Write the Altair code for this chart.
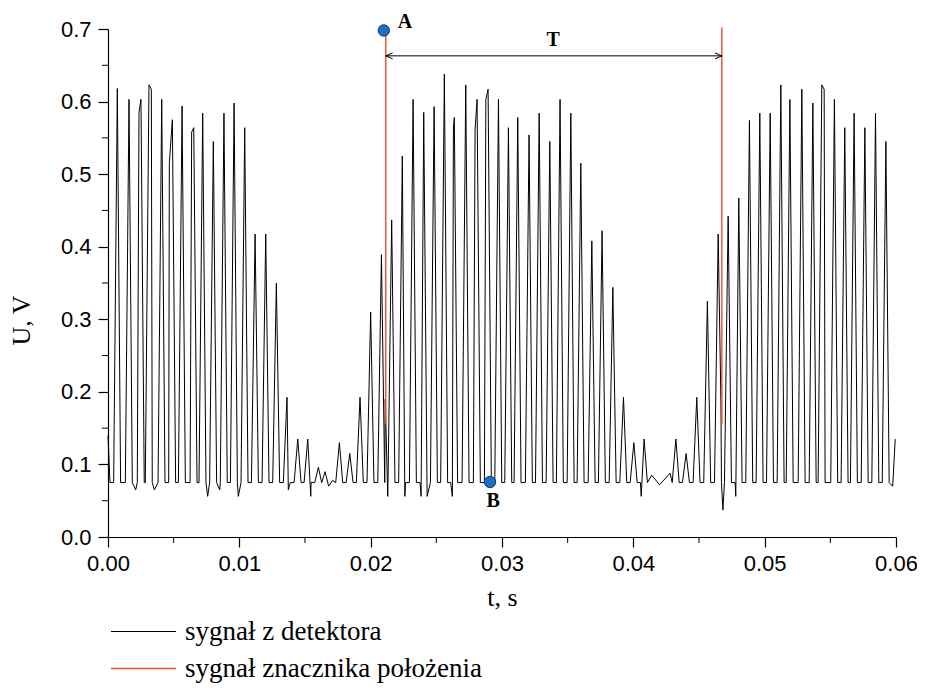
import altair as alt
import pandas as pd

# ---- data ----
peak_t = [0.00071, 0.00160, 0.00251, 0.00312, 0.00409, 0.00490, 0.00564, 0.00653, 0.00721, 0.00802,
          0.00883, 0.00960, 0.01041, 0.01120, 0.01201, 0.01282, 0.01363, 0.01445, 0.01521, 0.01602,
          0.01762, 0.01841, 0.01919, 0.02000, 0.02082, 0.02160, 0.02241, 0.02323, 0.02404, 0.02483,
          0.02561, 0.02637, 0.02724, 0.02810, 0.02894, 0.02973, 0.03049, 0.03120, 0.03206, 0.03283,
          0.03364, 0.03442, 0.03524, 0.03600, 0.03684, 0.03762, 0.03844, 0.03925, 0.04004, 0.04082,
          0.04324, 0.04402, 0.04483, 0.04564, 0.04646, 0.04722, 0.04803, 0.04884, 0.04963, 0.05042,
          0.05123, 0.05192, 0.05283, 0.05367, 0.05435, 0.05531, 0.05610, 0.05681, 0.05763, 0.05844,
          0.05923]
peak_u = [0.618, 0.603, 0.603, 0.623, 0.603, 0.575, 0.594, 0.564, 0.584, 0.545,
          0.584, 0.598, 0.564, 0.4175, 0.4175, 0.350, 0.1925, 0.135, 0.135, 0.096,
          0.130, 0.115, 0.1925, 0.310, 0.389, 0.437, 0.525, 0.603, 0.585, 0.593,
          0.638, 0.578, 0.623, 0.603, 0.617, 0.603, 0.564, 0.578, 0.554, 0.584,
          0.545, 0.603, 0.584, 0.515, 0.408, 0.422, 0.344, 0.1925, 0.130, 0.135,
          0.135, 0.115, 0.1925, 0.325, 0.4175, 0.442, 0.467, 0.574, 0.584, 0.584,
          0.623, 0.603, 0.617, 0.598, 0.623, 0.603, 0.564, 0.584, 0.564, 0.584,
          0.545]
baseline_u = 0.075
rise_dt = 0.00028
fall_dt = 0.00025

# shoulders on some spikes
extra_t = [0.00236, 0.00330, 0.00467, 0.00637, 0.02630, 0.02795, 0.02877, 0.05453]
extra_u = [0.585, 0.617, 0.515, 0.558, 0.565, 0.561, 0.603, 0.617]

# baseline wiggles, dips and small bumps
noise_t = [0.0, 0.00015, 0.00211, 0.00353, 0.00759, 0.00851, 0.00992, 0.01373, 0.01544,
           0.01653, 0.01680, 0.01710, 0.02111, 0.02130, 0.02260, 0.02384, 0.02430, 0.02622,
           0.04060, 0.04140, 0.04200, 0.04280, 0.04667, 0.04682, 0.04780, 0.05975, 0.05994]
noise_u = [0.140, 0.075, 0.065, 0.065, 0.056, 0.065, 0.056, 0.065, 0.056,
           0.090, 0.070, 0.078, 0.190, 0.056, 0.056, 0.056, 0.056, 0.056,
           0.056, 0.085, 0.072, 0.088, 0.185, 0.037, 0.056, 0.070, 0.135]

# position-marker signal (vertical red segments)
marker_sig_t = [0.02115, 0.04674]
marker_sig_lo = [0.155, 0.155]
marker_sig_hi = [0.697, 0.702]

# points A and B
pt_t = [0.02100, 0.02909]
pt_u = [0.698, 0.0758]
lbl_text = ["A", "B", "T"]
lbl_t = [0.02262, 0.02932, 0.03390]
lbl_u = [0.7097, 0.0496, 0.6850]
arrow_u = 0.663

x_major = [0.00, 0.01, 0.02, 0.03, 0.04, 0.05, 0.06]
x_minor = [0.005, 0.015, 0.025, 0.035, 0.045, 0.055]
y_major = [0.0, 0.1, 0.2, 0.3, 0.4, 0.5, 0.6, 0.7]
y_minor = [0.05, 0.15, 0.25, 0.35, 0.45, 0.55, 0.65]

S1 = "sygnał z detektora"
S2 = "sygnał znacznika położenia"

# ---- build tables ----
pts = []
for t, u in zip(peak_t, peak_u):
    pts += [(t - rise_dt, baseline_u), (t, u), (t + fall_dt, baseline_u)]
pts += list(zip(extra_t, extra_u)) + list(zip(noise_t, noise_u))
pts.sort()
rows = [{"t": t, "u": u, "series": S1, "seg": 0, "idx": i} for i, (t, u) in enumerate(pts)]
k = len(rows)
for j, (t, lo, hi) in enumerate(zip(marker_sig_t, marker_sig_lo, marker_sig_hi)):
    rows.append({"t": t, "u": lo, "series": S2, "seg": j + 1, "idx": k}); k += 1
    rows.append({"t": t, "u": hi, "series": S2, "seg": j + 1, "idx": k}); k += 1
df = pd.DataFrame(rows)

SANS = "Liberation Sans"
SERIF = "Liberation Serif"
TICK_FS = 22
TITLE_FS = 26
LEGEND_FS = 27

xscale = alt.Scale(domain=[0, 0.06], nice=False, zero=False)
yscale = alt.Scale(domain=[0, 0.7], nice=False, zero=False)

lines = alt.Chart(df).mark_line(clip=False).encode(
    x=alt.X("t:Q", scale=xscale,
            axis=alt.Axis(values=x_major, format=".2f", title="t, s", titleFont=SERIF,
                          titleFontSize=TITLE_FS, titleFontWeight="normal", titleY=68,
                          titleBaseline="alphabetic",
                          labelFont=SANS, labelFontSize=TICK_FS, labelPadding=6, tickSize=10,
                          labelColor="black", tickColor="black", domainColor="black",
                          labelFlush=False, labelOverlap=False, grid=False)),
    y=alt.Y("u:Q", scale=yscale,
            axis=alt.Axis(values=y_major, format=".1f", title="U, V", titleFont=SERIF,
                          titleFontSize=TITLE_FS, titleFontWeight="normal", titleX=-79, titleY=291,
                          titleBaseline="alphabetic",
                          labelFont=SANS, labelFontSize=TICK_FS, labelPadding=7, tickSize=10,
                          labelColor="black", tickColor="black", domainColor="black",
                          labelFlush=False, labelOverlap=False, grid=False)),
    color=alt.Color("series:N",
                    scale=alt.Scale(domain=[S1, S2], range=["#000000", "#e8502f"]),
                    legend=alt.Legend(title=None, orient="none", legendX=2, legendY=589,
                                      symbolType="stroke", symbolSize=4225, symbolStrokeWidth=1.3,
                                      clipHeight=27, rowPadding=9, labelOffset=8, padding=0,
                                      labelFont=SERIF, labelFontSize=LEGEND_FS, labelColor="black",
                                      labelLimit=500)),
    strokeWidth=alt.StrokeWidth("series:N", scale=alt.Scale(domain=[S1, S2], range=[1.0, 1.4]),
                                legend=None),
    detail="seg:N",
    order="idx:Q",
)

minor_x = alt.Chart(pd.DataFrame({"t": x_minor, "u0": [0.0] * len(x_minor),
                                  "u1": [-0.0083] * len(x_minor)})).mark_rule(
    color="black", strokeWidth=1, clip=False).encode(x="t:Q", y="u0:Q", y2="u1:Q")
minor_y = alt.Chart(pd.DataFrame({"u": y_minor, "t0": [0.0] * len(y_minor),
                                  "t1": [-0.00046] * len(y_minor)})).mark_rule(
    color="black", strokeWidth=1, clip=False).encode(y="u:Q", x="t0:Q", x2="t1:Q")

arrow_df = pd.DataFrame({"t1": [marker_sig_t[0]], "t2": [marker_sig_t[1]], "u": [arrow_u]})
arrow = alt.Chart(arrow_df).mark_rule(color="black", strokeWidth=1).encode(
    x="t1:Q", x2="t2:Q", y="u:Q")
head_l = alt.Chart(arrow_df).mark_point(shape="M2.3,-1L0,0L2.3,1", filled=False, size=36,
                                        color="black", strokeWidth=1, opacity=1).encode(
    x="t1:Q", y="u:Q")
head_r = alt.Chart(arrow_df).mark_point(shape="M-2.3,-1L0,0L-2.3,1", filled=False, size=36,
                                        color="black", strokeWidth=1, opacity=1).encode(
    x="t2:Q", y="u:Q")

points = alt.Chart(pd.DataFrame({"t": pt_t, "u": pt_u})).mark_circle(
    size=130, color="#1c6fc2", stroke="#0c3a66", strokeWidth=1, opacity=1, clip=False).encode(
    x="t:Q", y="u:Q")

labels = alt.Chart(pd.DataFrame({"t": lbl_t, "u": lbl_u, "txt": lbl_text})).mark_text(
    font=SERIF, fontWeight="bold", fontSize=20, color="black", align="center",
    baseline="middle").encode(x="t:Q", y="u:Q", text="txt:N")

chart = alt.layer(lines, minor_x, minor_y, arrow, head_l, head_r, points, labels).properties(
    width=788, height=508,
    autosize=alt.AutoSizeParams(type="none"),
    padding={"left": 100, "top": 21, "right": 21, "bottom": 154},
).configure_view(stroke=None).configure_axis(domainWidth=1.2, tickWidth=1.2)

chart.save("out.html", embed_options={"renderer": "svg", "actions": False})
